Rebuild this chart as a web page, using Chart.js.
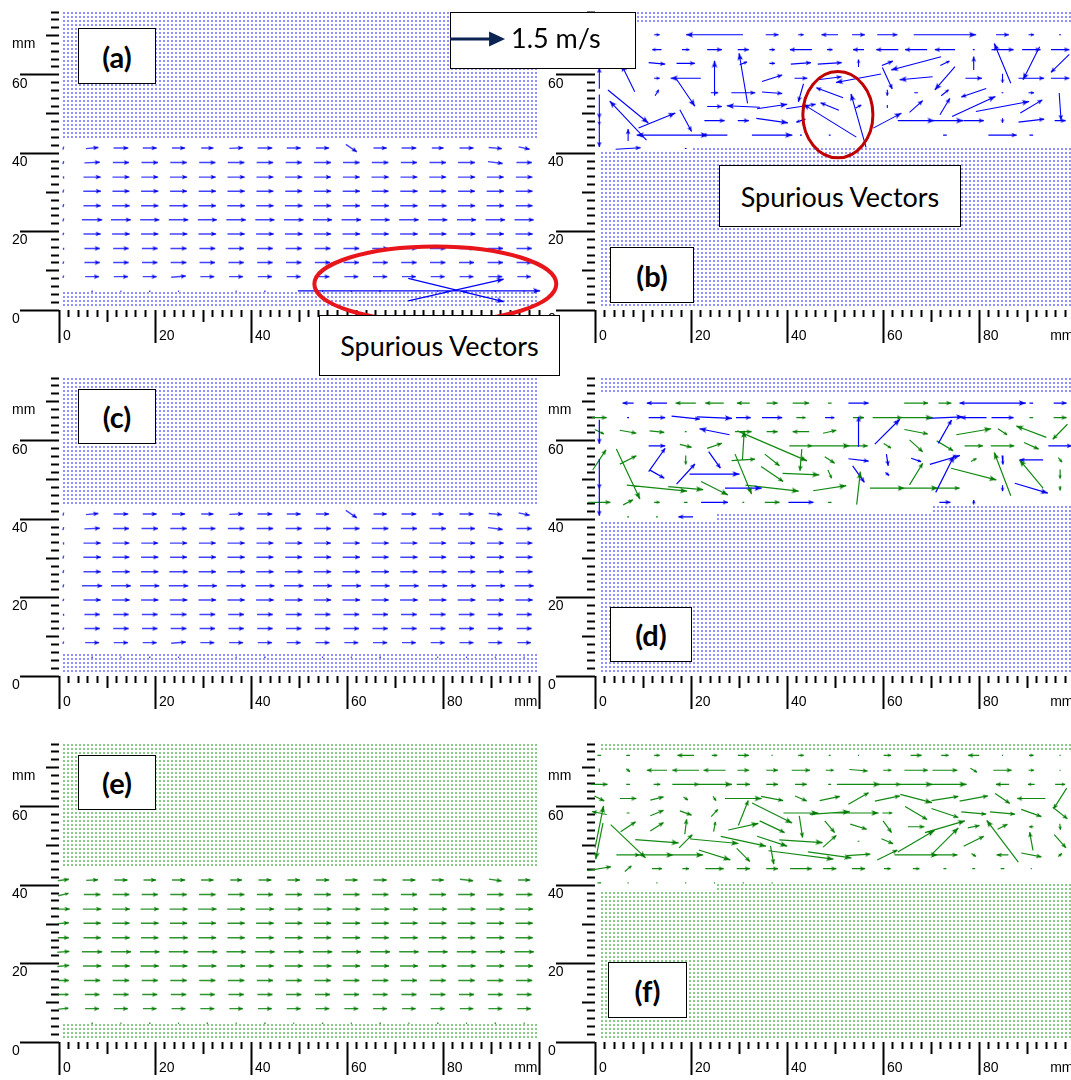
<!DOCTYPE html>
<html>
<head>
<meta charset="utf-8">
<title>PIV velocity fields (a)-(f)</title>
<script src="https://cdn.jsdelivr.net/npm/chart.js@4.4.1/dist/chart.umd.min.js"></script>
<style>
  html, body { margin: 0; padding: 0; background: #fff; }
  body { position: relative; width: 1071px; height: 1080px; overflow: hidden; }
  canvas.field { position: absolute; }
  .tag { position: absolute; box-sizing: border-box; border: 1.5px solid #000; background: #fff;
         display: flex; align-items: center; justify-content: center; color: #000;
         font-family: Lato, "Open Sans", sans-serif; font-weight: 700; font-size: 29px; z-index: 5; }
  .note { font-weight: 400; font-size: 27px; }
  #keyArrow { position: absolute; left: 450px; top: 28px; z-index: 6; }
  #keyText { position: absolute; left: 511px; top: 22px; z-index: 6; font-family: Lato, "Open Sans", sans-serif;
             font-size: 27px; line-height: 32px; color: #000; }
</style>
</head>
<body>
<canvas id="pa" class="field"></canvas>
<canvas id="pb" class="field"></canvas>
<canvas id="pc" class="field"></canvas>
<canvas id="pd" class="field"></canvas>
<canvas id="pe" class="field"></canvas>
<canvas id="pf" class="field"></canvas>

<div class="tag" style="left:78px;top:28px;width:78px;height:56px">(a)</div>
<div class="tag" style="left:610px;top:247px;width:84px;height:56px">(b)</div>
<div class="tag" style="left:78px;top:389px;width:78px;height:55px">(c)</div>
<div class="tag" style="left:610px;top:607px;width:82px;height:55px">(d)</div>
<div class="tag" style="left:78px;top:755px;width:78px;height:55px">(e)</div>
<div class="tag" style="left:608px;top:962px;width:79px;height:56px">(f)</div>

<div class="tag" style="left:450px;top:12px;width:186px;height:57px"></div>
<canvas id="keyArrow" width="64" height="22"></canvas>
<div id="keyText">1.5 m/s</div>

<div class="tag note" style="left:319px;top:315px;width:241px;height:61px">Spurious Vectors</div>
<div class="tag note" style="left:719px;top:165px;width:242px;height:62px">Spurious Vectors</div>

<script>
// ---------------- axes ----------------
const xLabelValues = [0, 20, 40, 60, 80];
const xUnitValue = 94;              // "mm" sits just before the 100 mm tick
const yLabelValues = [0, 20, 40, 60];
const yUnitValue = 70;

// ---------------- measurement grid (mm) ----------------
const gridX = [0.9, 6.9, 12.9, 18.9, 24.9, 30.9, 36.9, 42.9, 48.9, 54.9, 60.9, 66.9, 72.9, 78.9, 84.9, 90.9, 96.9];
const channelRowY = [41.3, 37.6, 33.9, 30.3, 26.6, 23.0, 19.4, 15.7, 12.1, 8.5, 4.8];
const bRowY = [70.2, 66.4, 62.9, 59.1, 55.4, 51.9, 48.3, 44.6, 41.2];
const dRowY = [69.6, 65.9, 62.3, 58.7, 55.1, 51.5, 47.9, 44.3, 40.6];
const fRowY = [73.1, 69.3, 65.7, 62.1, 58.4, 54.9, 51.2, 47.7, 44.2, 40.6];

// velocity scale of the drawn arrows: mm of plot per m/s
const ARROW = 7.65;

// ---------------- lower channel flow, (a) and (c): u, v in m/s ----------------
const acU = [
  [0.02, 0.34, 0.40, 0.38, 0.36, 0.33, 0.37, 0.40, 0.38, 0.36, 0.30, 0.36, 0.40, 0.32, 0.38, 0.36, 0.30],
  [0.02, 0.42, 0.44, 0.45, 0.45, 0.44, 0.45, 0.45, 0.44, 0.46, 0.45, 0.45, 0.44, 0.45, 0.46, 0.40, 0.42],
  [0.01, 0.47, 0.46, 0.46, 0.47, 0.46, 0.47, 0.46, 0.47, 0.46, 0.46, 0.47, 0.46, 0.46, 0.47, 0.46, 0.45],
  [0.02, 0.48, 0.46, 0.47, 0.46, 0.47, 0.47, 0.46, 0.46, 0.47, 0.47, 0.46, 0.47, 0.46, 0.46, 0.47, 0.46],
  [0.02, 0.47, 0.48, 0.47, 0.50, 0.47, 0.48, 0.47, 0.48, 0.47, 0.47, 0.48, 0.47, 0.48, 0.47, 0.47, 0.46],
  [0.02, 0.55, 0.54, 0.52, 0.53, 0.52, 0.53, 0.52, 0.53, 0.52, 0.53, 0.52, 0.53, 0.52, 0.52, 0.53, 0.52],
  [0.02, 0.47, 0.48, 0.47, 0.48, 0.48, 0.47, 0.48, 0.48, 0.47, 0.48, 0.47, 0.48, 0.47, 0.48, 0.47, 0.47],
  [0.01, 0.42, 0.42, 0.43, 0.44, 0.43, 0.43, 0.43, 0.44, 0.43, 0.43, 0.43, 0.43, 0.43, 0.43, 0.42, 0.42],
  [0.02, 0.42, 0.42, 0.42, 0.43, 0.42, 0.42, 0.42, 0.42, 0.42, 0.42, 0.42, 0.42, 0.42, 0.41, 0.42, 0.41],
  [0.02, 0.38, 0.39, 0.38, 0.40, 0.38, 0.38, 0.39, 0.38, 0.38, 0.38, 0.39, 0.38, 0.38, 0.38, 0.38, 0.37],
  [0.00, 0.04, 0.03, 0.04, 0.03, 0.00, 0.03, 0.04, 0.00, 0.03, 0.03, 0.04, 0.00, 0.03, 0.03, 0.03, 0.03]
];
const acV = [
  [0.10, 0.04, 0, 0, 0, 0, 0.02, 0, 0, 0, -0.25, 0, 0, 0, 0, -0.04, -0.08],
  [0.10, 0.02, 0, 0, 0, 0, 0, 0, 0, 0, 0, 0, 0, 0, 0, -0.06, 0],
  [0.06, 0, 0, 0, 0, 0, 0, 0, 0, 0, 0, 0, 0, 0, 0, 0, 0],
  [0.10, 0, 0, 0, 0, 0, 0, 0, 0, 0, 0, 0, 0, 0, 0, 0, 0],
  [0.10, 0, 0, 0, 0, 0, 0, 0, 0, 0, 0, 0, 0, 0, 0, 0, 0],
  [0.10, 0, 0, 0, 0, 0, 0, 0, 0, 0, 0, 0, 0, 0, 0, 0, 0],
  [0.08, 0, 0, 0, 0, 0, 0, 0, 0, 0, 0, 0, 0, 0, 0, 0, 0],
  [0.05, 0, 0, 0, 0, 0, 0, 0, 0, 0, 0, 0, 0, 0, 0, 0, 0],
  [0.08, 0, 0, 0, 0, 0, 0, 0, 0, 0, 0, 0, 0, 0, 0, 0, 0],
  [0.08, 0, 0, 0, 0.04, 0, 0, 0, 0, 0, 0, 0, 0, 0, 0, 0, 0],
  [0, 0, 0, 0, 0, 0, 0, 0, 0, 0, 0, 0, 0, 0, 0, 0, 0]
];
// spurious vectors near the bottom wall in (a): x, y (mm), u, v (m/s)
const spuriousA = [
  [82.7, 5.1, 2.6, -0.78],
  [82.7, 5.1, 2.6, 0.72],
  [75.0, 4.9, 6.6, 0.0]
];

// ---------------- lower channel flow, (e) ----------------
const eU = [
  [0.30, 0.32, 0.36, 0.34, 0.36, 0.34, 0.32, 0.35, 0.34, 0.36, 0.34, 0.36, 0.35, 0.33, 0.36, 0.34, 0.33],
  [0.28, 0.45, 0.46, 0.44, 0.45, 0.45, 0.45, 0.44, 0.45, 0.46, 0.45, 0.45, 0.44, 0.45, 0.46, 0.45, 0.45],
  [0.35, 0.50, 0.49, 0.50, 0.49, 0.50, 0.49, 0.50, 0.49, 0.50, 0.49, 0.50, 0.49, 0.50, 0.49, 0.50, 0.49],
  [0.30, 0.47, 0.47, 0.48, 0.47, 0.47, 0.47, 0.48, 0.47, 0.47, 0.48, 0.47, 0.47, 0.47, 0.48, 0.47, 0.47],
  [0.30, 0.47, 0.48, 0.47, 0.50, 0.48, 0.47, 0.48, 0.48, 0.47, 0.48, 0.47, 0.48, 0.48, 0.47, 0.48, 0.47],
  [0.33, 0.55, 0.55, 0.53, 0.53, 0.54, 0.53, 0.53, 0.54, 0.53, 0.53, 0.54, 0.53, 0.54, 0.53, 0.53, 0.53],
  [0.32, 0.50, 0.48, 0.49, 0.48, 0.49, 0.49, 0.48, 0.49, 0.49, 0.48, 0.49, 0.49, 0.48, 0.49, 0.48, 0.48],
  [0.30, 0.44, 0.45, 0.44, 0.45, 0.44, 0.45, 0.44, 0.44, 0.45, 0.44, 0.45, 0.44, 0.44, 0.45, 0.44, 0.44],
  [0.28, 0.40, 0.42, 0.41, 0.42, 0.41, 0.42, 0.41, 0.42, 0.41, 0.42, 0.41, 0.41, 0.42, 0.41, 0.41, 0.41],
  [0.27, 0.38, 0.38, 0.37, 0.38, 0.38, 0.37, 0.38, 0.38, 0.37, 0.38, 0.38, 0.37, 0.38, 0.37, 0.38, 0.37],
  [0.00, 0.04, 0.03, 0.04, 0.03, 0.04, 0.03, 0.04, 0.03, 0.04, 0.03, 0.04, 0.03, 0.04, 0.03, 0.04, 0.03]
];
const eV = [
  [0.05, 0.02, 0, 0, 0, 0, 0, 0, 0, 0, 0, 0, 0, 0, -0.05, -0.06, 0],
  [0.08, 0, 0, 0, 0, 0, 0, 0, 0, 0, 0, 0, 0, 0, 0, 0, 0],
  [0.00, 0, 0, 0, 0, 0, 0, 0, 0, 0, 0, 0, 0, 0, 0, 0, 0],
  [0.03, 0, 0, 0, 0, 0, 0, 0, 0, 0, 0, 0, 0, 0, 0, 0, 0],
  [0.00, 0, 0, 0, 0, 0, 0, 0, 0, 0, 0, 0, 0, 0, 0, 0, 0],
  [0.03, 0, 0, 0, 0, 0, 0, 0, 0, 0, 0, 0, 0, 0, 0, 0, 0],
  [0.04, 0, 0, 0, 0, 0, 0, 0, 0, 0, 0, 0, 0, 0, 0, 0, 0],
  [0.00, 0, 0, 0, 0, 0, 0, 0, 0, 0, 0, 0, 0, 0, 0, 0, 0],
  [0.00, 0, 0, 0, 0, 0, 0, 0, 0, 0, 0, 0, 0, 0, 0, 0, 0],
  [0.03, 0, 0, 0, 0, 0, 0, 0, 0, 0, 0, 0, 0, 0, 0, 0, 0],
  [0, 0, 0, 0, 0, 0, 0, 0, 0, 0, 0, 0, 0, 0, 0, 0, 0]
];

// ---------------- upper shear layer, (b): [column, row, u, v] ----------------
const bVectors = [
  [2,0,0.15,0],[4,0,-1.55,0],[6,0,0.35,0],[7,0,0.15,0],[8,0,-0.45,0],[9,0,0.35,0],[10,0,0.55,0],[12,0,1.7,0],[14,0,0.35,0],[15,0,0.15,0],[16,0,0.05,0],
  [2,1,-0.25,0],[3,1,0.2,0],[4,1,0.4,0],[5,1,0.3,0],[6,1,0.15,0],[7,1,-0.6,0],[8,1,0.15,0],[9,1,-0.3,0],[10,1,-0.6,0],[11,1,-0.6,0],[12,1,-0.55,0],[13,1,0.05,0],[14,1,0.6,0],[15,1,0.5,0],[16,1,0.5,0],
  [2,2,0.45,-0.05],[3,2,0.5,0],[5,2,0.2,0.1],[6,2,0.15,0],[7,2,0.55,0.05],[8,2,0.65,0.05],[9,2,0,0.25],[10,2,0.3,0.15],[11,2,-1.36,-0.44],[12,2,0.25,0.15],[13,2,0,0.45],[14,2,-0.45,1.33],[15,2,-0.45,-1.1],[16,2,-0.5,-0.6],
  [0,3,0,0.7],[1,3,-0.36,0.9],[2,3,0.15,0],[3,3,-0.82,0],[4,3,0,1.17],[5,3,-0.23,1.67],[6,3,0.55,0.22],[7,3,0.35,0],[8,3,0.64,0.1],[9,3,-1.23,-0.28],[10,3,0.27,-0.72],[11,3,-0.9,-0.1],[12,3,-0.55,-0.78],[13,3,0.45,0],[14,3,0,-0.3],[15,3,0.7,0],[16,3,0.5,0],
  [2,4,0.1,0.2],[3,4,0.5,-0.9],[4,4,0.2,0],[5,4,0.65,0],[6,4,0.55,-0.05],[7,4,-0.14,-0.6],[8,4,-0.73,0.33],[10,4,0,-0.2],[11,4,0.1,0],[12,4,0.2,0.2],[13,4,-0.68,-0.28],[14,4,0.05,0],[15,4,0.15,0],
  [0,5,0,-0.8],[1,5,1.1,-1.1],[4,5,0.4,0],[5,5,-0.9,0.05],[6,5,0.82,0.15],[7,5,0.8,0.15],[8,5,-0.5,0.25],[9,5,0.15,0.1],[10,5,0,-0.1],[11,5,0.36,0.39],[12,5,0.27,0.55],[13,5,1.18,0.67],[14,5,1.45,0.33],[15,5,0.6,0.44],[16,5,0.05,-0.9],
  [0,6,0,-0.3],[1,6,-1.0,1.3],[2,6,1.0,0.5],[3,6,0.32,-0.72],[4,6,0.55,0],[5,6,0.3,0],[6,6,0.86,-0.15],[7,6,-0.25,-0.1],[8,6,-1.45,1.1],[9,6,-0.41,1.78],[10,6,0.77,0.5],[11,6,1.0,0],[12,6,1.0,0],[13,6,0.55,0],[14,6,0,-0.15],[15,6,0.7,0.1],[16,6,0.3,0],
  [0,7,0,-0.8],[1,7,0,0.4],[2,7,-1.1,0],[3,7,1.2,0],[4,7,-0.7,0],[6,7,1.1,0],[7,7,0.05,0],[8,7,0.05,0],[12,7,0.1,0],[14,7,0.77,0],[15,7,0.1,0],
  [1,8,0.68,0.05],[3,8,0.05,0]
];

// ---------------- (d): original (blue) and replaced (green) vectors ----------------
const dBlue = [
  [1,0,-0.3,0],[2,0,-0.55,0],[9,0,0.55,0],[13,0,-0.77,0],[14,0,1.27,0],[15,0,0.1,0],[16,0,0.35,0],
  [1,1,0.05,0],[2,1,0.45,0],[3,1,0.77,-0.1],[4,1,0.95,-0.05],[5,1,0.4,0],[6,1,0.55,0],[8,1,0.25,0],[12,1,1.0,0.05],[13,1,-0.7,0],[14,1,0.6,0],
  [0,2,0,-0.8],[4,2,-0.82,0.2],[9,2,0,1.0],[10,2,0.68,0.83],[12,2,0.36,0.78],
  [2,3,0.45,0],[16,3,0.64,0],
  [2,4,0.45,0.78],[4,4,0.32,-0.55],[9,4,0.55,-0.08],[10,4,0.05,-0.39],[11,4,0.27,-0.11],[12,4,0.82,0.3],[14,4,0.02,-0.3],[15,4,-0.64,0],
  [0,5,0,-1.0],[2,5,0.4,-0.28],[3,5,0.5,0.67],[4,5,1.36,0],[9,5,0.32,-0.55],[10,5,0.1,-0.1],[12,5,0.5,1.22],
  [5,6,1.0,0],[14,6,0,-0.2],[15,6,0.9,-0.33],
  [0,7,0,-0.9],[4,7,0.73,0],[7,7,0.68,0],[12,7,0.3,0],[13,7,0,0.15],
  [3,8,-0.4,0]
];
const dGreen = [
  [3,0,-0.55,0],[4,0,-0.5,0],[5,0,-0.35,0],[6,0,0.3,0],[7,0,0.45,0],[8,0,0.1,0],[11,0,0.65,0],[12,0,0.35,0],
  [0,1,0.4,0],[7,1,0.25,0],[9,1,0.3,0],[10,1,0.8,0],[11,1,0.9,0],[15,1,0.1,0],[16,1,0.35,0],
  [0,2,0.25,-0.15],[1,2,0.45,-0.1],[2,2,0.4,-0.05],[3,2,0.05,0],[5,2,0.45,0],[6,2,0.3,0],[7,2,-0.45,0],[8,2,0.36,0.1],[11,2,0.64,-0.15],[13,2,0.95,0.2],[14,2,0.25,-0.2],[15,2,-0.82,0.38],[16,2,-0.4,-0.5],
  [3,3,0.32,-0.1],[4,3,0.4,0.17],[5,3,0.05,1.0],[6,3,1.9,-1.0],[7,3,0.63,0],[8,3,1.1,0],[9,3,0.5,0],[10,3,0.2,-0.15],[11,3,0.36,-0.4],[12,3,0.45,-0.33],[13,3,0.5,0],[14,3,0.64,0],[15,3,0.4,-0.22],
  [0,4,0.36,0.67],[1,4,0.45,0.28],[3,4,0,-0.3],[5,4,0.64,0.05],[6,4,0.4,-0.39],[7,4,-0.05,-0.72],[8,4,0.27,-0.22],[13,4,0.15,0.1],[16,4,0.1,-0.15],
  [1,5,0.64,-1.67],[5,5,0.45,-1.33],[6,5,0.6,-0.5],[7,5,1.0,-0.05],[8,5,0.1,-0.28],[11,5,0.36,0.72],[13,5,1.23,-0.39],[14,5,-0.45,1.44],[15,5,-0.64,0.94],[16,5,0,-0.3],
  [2,6,1.64,-0.2],[3,6,0.95,-0.1],[4,6,0.73,-0.45],[6,6,1.45,-0.2],[8,6,0.9,0.17],[9,6,0.1,1.1],[10,6,0.95,0],[11,6,1.2,0],[12,6,0.8,0],[16,6,0,-0.15],
  [0,7,0.6,0],[1,7,0.27,0.17],[2,7,0.15,0],[3,7,0.1,0],[5,7,0.05,0],[6,7,0.4,0],[8,7,0.1,0],
  [1,8,0.05,0],[2,8,0.05,0]
];

// ---------------- (f): corrected upper shear layer ----------------
const fVectors = [
  [0,0,0.1,0],[1,0,0.1,0],[2,0,0.15,0],[3,0,-0.45,0],[4,0,0.15,0],[5,0,0.3,0],[6,0,0.03,0],[7,0,0.15,0],[8,0,0.05,0],[9,0,0.03,0],[10,0,0.2,0],[11,0,0.3,0],[12,0,0.2,0],[13,0,-0.3,0],[14,0,0.03,0],[15,0,0.12,0],[16,0,0.03,0],
  [0,1,0,0.12],[1,1,0.1,-0.1],[2,1,-0.55,0],[3,1,-0.73,0],[4,1,-0.6,0],[5,1,0.32,0],[6,1,0.32,0],[7,1,0.5,0],[8,1,0.22,0],[9,1,0.5,-0.05],[10,1,0.22,0],[11,1,0.64,0],[12,1,0.68,0],[13,1,0.18,-0.13],[14,1,0.5,0],[15,1,0.15,0],[16,1,0.03,0],
  [0,2,0.45,0],[1,2,0.1,0],[2,2,0.18,0],[3,2,0.73,0],[4,2,0.95,0],[5,2,0.36,0],[6,2,0.32,0],[7,2,0.32,0],[8,2,0.08,0],[9,2,1.18,0],[10,2,0.73,0],[11,2,0.9,0],[12,2,1.18,0],[14,2,-0.36,0],[15,2,-0.18,0],[16,2,0.27,0],
  [0,3,0.27,-0.17],[1,3,0.45,0],[2,3,0.36,0.11],[3,3,0.12,-0.1],[4,3,0.08,-0.15],[5,3,1.0,0],[6,3,0.6,-0.14],[7,3,0.32,-0.17],[8,3,0.55,0.14],[9,3,0.55,0.39],[10,3,0.68,0.17],[11,3,0.86,-0.28],[12,3,0.73,0.14],[13,3,0.77,0.17],[14,3,0.4,-0.33],[15,3,-0.77,0],[16,3,-0.36,-0.69],
  [0,4,-0.4,0.1],[1,4,0.08,0],[2,4,0.36,0.18],[3,4,0.32,-0.14],[4,4,0.18,0.24],[5,4,0.27,0.83],[6,4,1.09,-0.67],[7,4,0.95,0],[8,4,1.09,0.09],[9,4,1.09,0],[10,4,0.27,0],[11,4,0.6,-0.44],[12,4,0.73,-0.3],[13,4,0.68,-0.08],[14,4,0.68,-0.08],[15,4,0.55,-0.24],[16,4,0.4,-0.39],
  [0,5,0.23,1.39],[1,5,0.41,0.33],[2,5,0.36,0.28],[3,5,0.05,0.5],[4,5,0.05,0.33],[5,5,0.82,0.22],[6,5,0.68,-0.39],[7,5,0.09,-0.72],[8,5,0.27,-0.39],[9,5,0.45,-0.17],[10,5,0.23,-0.39],[11,5,0.45,0],[12,5,1.09,0.39],[13,5,0.32,0.08],[14,5,0.27,0.17],[15,5,-0.12,0],[16,5,0.02,-0.2],
  [0,6,-0.2,-1.2],[1,6,0.95,-1.11],[2,6,1.18,-0.11],[3,6,0.36,0.44],[4,6,1.3,-0.15],[5,6,1.23,-0.33],[6,6,0.82,-0.33],[7,6,1.18,-0.09],[8,6,0.36,0.39],[9,6,0.05,0],[10,6,0.32,-0.17],[11,6,1.0,0.72],[12,6,0.73,0.89],[13,6,0.55,0.33],[14,6,-0.86,1.39],[15,6,-0.09,0.61],[16,6,0.32,-0.44],
  [1,7,0.64,0],[2,7,0.9,0],[3,7,0.95,0],[4,7,0.86,-0.33],[5,7,0.36,-0.44],[6,7,0.09,-0.61],[7,7,1.77,-0.28],[8,7,1.18,-0.2],[9,7,0.64,0.05],[10,7,0.55,0.33],[11,7,1.18,0],[12,7,0.68,0],[13,7,0.12,-0.1],[14,7,-0.32,0],[15,7,0.55,-0.13],[16,7,0.1,0.1],
  [0,8,0.64,0.13],[1,8,0.18,0.19],[2,8,0.27,0],[3,8,0.18,0],[4,8,0.5,0],[5,8,0.36,0],[6,8,0.32,0],[7,8,0.59,0],[8,8,0.36,0],[9,8,0.36,0],[10,8,0.18,0],[11,8,0.18,0],[12,8,0.08,0],[13,8,0.08,0],[14,8,0.1,0],[15,8,0.03,0],
  [0,9,0.1,0],[1,9,0.03,0],[2,9,0.03,0],[3,9,0.03,0],[4,9,0.03,0],[5,9,0.03,0],[6,9,0.03,0]
];

// ---------------- masked (zero-vector) regions: [xFrom, xTo, yFrom, yTo] in mm ----------------
const maskA = [[1.0, 100, 43.6, 76], [1.0, 100, 0.9, 4.5]];
const maskB = [[1.3, 100, 73.6, 76], [1.3, 20, 0.9, 40.3], [20, 100, 0.9, 41.5]];
const maskC = [[1.0, 100, 43.6, 76], [1.0, 100, 0.9, 5.5]];
const maskD = [[1.3, 100, 72.6, 76], [1.3, 25, 0.9, 39.5], [25, 70, 0.9, 41.6], [70, 100, 0.9, 43.2]];
const maskE = [[1.0, 100, 44.5, 76], [1.0, 100, 0.9, 4.5]];
const maskF = [[1.3, 100, 74.2, 76], [1.3, 25, 0.9, 38.5], [25, 100, 0.9, 40.5]];
// masked lattice: spacing and origin (mm)
const maskStepX = 0.83333, maskStepY = 1.020134;
const maskTopY = 75.745, maskLeftX = 1.0417, maskRightX = 1.4583;

// annotation rings around the spurious vectors (mm)
const ringA = { x: 78.4, y: 6.6, rx: 25.2, ry: 9.6, color: '#e8151b', width: 4 };
const ringB = { x: 50.6, y: 49.8, rx: 7.3, ry: 11.0, color: '#c00000', width: 3 };

// ---------------- helpers ----------------
function headCanvas(color, len, half) {
  const s = 2 * Math.ceil(len + 2);
  const c = document.createElement('canvas');
  c.width = s; c.height = s;
  const g = c.getContext('2d');
  const m = s / 2;
  g.fillStyle = color;
  g.beginPath();
  g.moveTo(m, m);
  g.lineTo(m - half, m + len);
  g.lineTo(m, m + len * 0.8);
  g.lineTo(m + half, m + len);
  g.closePath();
  g.fill();
  return c;
}
const blankHead = document.createElement('canvas');
blankHead.width = 2; blankHead.height = 2;

function headSet(color) {
  return { small: headCanvas(color, 3.5, 1.8), mid: headCanvas(color, 5, 2.3), big: headCanvas(color, 7, 2.8) };
}
const blueHeads = headSet('#0000e6');
const greenHeads = headSet('#007a00');

function tipGeom(ctx) {
  const r = ctx.raw;
  if (!r || r.tx === undefined) return null;
  const sx = ctx.chart.scales.x, sy = ctx.chart.scales.y;
  const dx = sx.getPixelForValue(r.x) - sx.getPixelForValue(r.tx);
  const dy = sy.getPixelForValue(r.y) - sy.getPixelForValue(r.ty);
  return { dx, dy, len: Math.hypot(dx, dy) };
}

function gridList(U, V, rowsY) {
  const out = [];
  U.forEach((row, i) => row.forEach((u, j) => out.push([gridX[j], rowsY[i], u, V[i][j]])));
  return out;
}
function indexedList(list, rowsY) {
  return list.map(([c, r, u, v]) => [gridX[c], rowsY[r], u, v]);
}

function vectorDatasets(list, shaftColor, heads, width) {
  const shaft = [], tips = [];
  for (const [x, y, u, v] of list) {
    const hx = ARROW * u / 2, hy = ARROW * v / 2;
    shaft.push({ x: x - hx, y: y - hy }, { x: x + hx, y: y + hy }, { x: x + hx, y: null });
    tips.push({ x: x + hx, y: y + hy, tx: x - hx, ty: y - hy });
  }
  return [
    { data: shaft, showLine: true, spanGaps: false, borderColor: shaftColor, borderWidth: width,
      pointRadius: 0, pointHoverRadius: 0, order: 2, clip: 12 },
    { data: tips, showLine: false, pointRadius: 3, order: 1, clip: 12,
      pointStyle: (ctx) => {
        const g = tipGeom(ctx);
        if (!g) return 'circle';
        if (g.len < 4) return blankHead;
        if (g.len < 11) return heads.small;
        if (g.len < 30) return heads.mid;
        return heads.big;
      },
      rotation: (ctx) => {
        const g = tipGeom(ctx);
        return g ? Math.atan2(g.dx, -g.dy) * 180 / Math.PI : 0;
      } }
  ];
}

function maskDots(bands, x0, color) {
  const pts = [];
  for (const [xa, xb, ya, yb] of bands) {
    for (let k = 0; ; k++) {
      const y = maskTopY - k * maskStepY;
      if (y < ya - 1e-6) break;
      if (y > yb + 1e-6) continue;
      for (let i = Math.max(0, Math.ceil((xa - x0) / maskStepX - 1e-6)); ; i++) {
        const x = x0 + i * maskStepX;
        if (x > xb + 1e-6) break;
        pts.push({ x, y });
      }
    }
  }
  return { data: pts, pointStyle: 'rect', pointRadius: 1.4142, pointBorderWidth: 0,
           backgroundColor: color, borderColor: color, order: 10, clip: 3 };
}

const tickLenY = (v) => (v % 20 === 0 ? 39 : v % 10 === 0 ? 13 : 8);
const tickLenX = (v) => (v % 20 === 0 ? 33 : v % 10 === 0 ? 12 : 7);
const TL_Y = 39, TL_X = 33;

const ringPlugin = {
  id: 'rings',
  afterDatasetsDraw(chart, args, opts) {
    const list = (opts && opts.list) || [];
    const { ctx } = chart;
    const sx = chart.scales.x, sy = chart.scales.y;
    for (const r of list) {
      const cx = sx.getPixelForValue(r.x), cy = sy.getPixelForValue(r.y);
      const rx = Math.abs(sx.getPixelForValue(r.x + r.rx) - cx);
      const ry = Math.abs(sy.getPixelForValue(r.y + r.ry) - cy);
      ctx.save();
      ctx.beginPath();
      ctx.ellipse(cx, cy, rx, ry, 0, 0, Math.PI * 2);
      ctx.strokeStyle = r.color;
      ctx.lineWidth = r.width;
      ctx.stroke();
      ctx.restore();
    }
  }
};

// chart area: 100 mm wide (480 px), 76 mm tall (298 px); y axis box 47 px, x axis box 40 px
const AXW = 47, AXH = 40, PADT = 12, AREA_W = 480, AREA_H = 298;

function makePanel(id, left0, bottom0, datasets, rings, padR) {
  const cv = document.getElementById(id);
  const w = AXW + AREA_W + padR, h = PADT + AREA_H + AXH;
  cv.width = w; cv.height = h;
  cv.style.left = (left0 - AXW) + 'px';
  cv.style.top = (bottom0 - AREA_H - PADT) + 'px';
  cv.style.width = w + 'px'; cv.style.height = h + 'px';
  const font = { family: '"Liberation Sans", Arial, sans-serif', size: 14 };
  return new Chart(cv, {
    type: 'scatter',
    data: { datasets },
    plugins: [ringPlugin],
    options: {
      responsive: false, animation: false, events: [], devicePixelRatio: 1,
      layout: { padding: { left: 0, top: PADT, right: padR, bottom: 0 } },
      plugins: { legend: { display: false }, tooltip: { enabled: false }, rings: { list: rings } },
      scales: {
        x: {
          type: 'linear', position: 'bottom', min: 0, max: 100,
          afterFit: (s) => { s.height = AXH; },
          border: { display: false },
          grid: {
            drawOnChartArea: false, drawTicks: true, tickLength: TL_X, tickWidth: 2, tickColor: '#000',
            tickBorderDash: (c) => [tickLenX(c.tick.value), 300], tickBorderDashOffset: 0
          },
          ticks: {
            stepSize: 2, autoSkip: false, maxRotation: 0, minRotation: 0, align: 'start',
            labelOffset: 4, padding: -15, color: '#000', font,
            callback: (v) => (xLabelValues.includes(v) ? String(v) : v === xUnitValue ? 'mm' : '')
          }
        },
        y: {
          type: 'linear', position: 'left', min: 0, max: 76,
          afterFit: (s) => { s.width = AXW; },
          border: { display: false },
          grid: {
            drawOnChartArea: false, drawTicks: true, tickLength: TL_Y, tickWidth: 2, tickColor: '#000',
            tickBorderDash: (c) => [tickLenY(c.tick.value), 300],
            tickBorderDashOffset: (c) => -(TL_Y - tickLenY(c.tick.value))
          },
          ticks: {
            stepSize: 2, autoSkip: false, crossAlign: 'far', labelOffset: 9, padding: 0, color: '#000', font,
            callback: (v) => (yLabelValues.includes(v) ? String(v) : v === yUnitValue ? 'mm' : '')
          }
        }
      }
    }
  });
}

const BLUE_DOT = '#9090ff';
const GREEN_DOT = '#86cc86';
const LEFT0 = 59, RIGHT0 = 595;
const ROW1 = 310, ROW2 = 676, ROW3 = 1042;

const acList = gridList(acU, acV, channelRowY);

const chartA = makePanel('pa', LEFT0, ROW1, [
  ...vectorDatasets(spuriousA, '#0000ff', blueHeads, 1.2),
  ...vectorDatasets(acList, 'rgba(20,20,255,0.8)', blueHeads, 1.4),
  maskDots(maskA, maskLeftX, BLUE_DOT)
], [ringA], 24);

makePanel('pb', RIGHT0, ROW1, [
  ...vectorDatasets(indexedList(bVectors, bRowY), '#0000ff', blueHeads, 1.1),
  maskDots(maskB, maskRightX, BLUE_DOT)
], [ringB], 8);

makePanel('pc', LEFT0, ROW2, [
  ...vectorDatasets(acList, 'rgba(20,20,255,0.8)', blueHeads, 1.4),
  maskDots(maskC, maskLeftX, BLUE_DOT)
], [], 8);

makePanel('pd', RIGHT0, ROW2, [
  ...vectorDatasets(indexedList(dBlue, dRowY), '#0000ff', blueHeads, 1.2),
  ...vectorDatasets(indexedList(dGreen, dRowY), '#108a10', greenHeads, 1.2),
  maskDots(maskD, maskRightX, BLUE_DOT)
], [], 8);

makePanel('pe', LEFT0, ROW3, [
  ...vectorDatasets(gridList(eU, eV, channelRowY), 'rgba(10,130,10,0.85)', greenHeads, 1.4),
  maskDots(maskE, maskLeftX, GREEN_DOT)
], [], 8);

makePanel('pf', RIGHT0, ROW3, [
  ...vectorDatasets(indexedList(fVectors, fRowY), '#138a13', greenHeads, 1.2),
  maskDots(maskF, maskRightX, GREEN_DOT)
], [], 8);

// reference arrow of the legend: 1.5 m/s at the plot's vector scale
(function drawKey() {
  const sx = chartA.scales.x;
  const len = sx.getPixelForValue(1.5 * ARROW) - sx.getPixelForValue(0);
  const g = document.getElementById('keyArrow').getContext('2d');
  const y = 11, head = 16, half = 7.5;
  g.strokeStyle = '#0c2452'; g.fillStyle = '#0c2452'; g.lineWidth = 3;
  g.beginPath(); g.moveTo(0, y); g.lineTo(len - head + 2, y); g.stroke();
  g.beginPath(); g.moveTo(len, y); g.lineTo(len - head, y - half); g.lineTo(len - head, y + half); g.closePath(); g.fill();
})();
</script>
</body>
</html>
